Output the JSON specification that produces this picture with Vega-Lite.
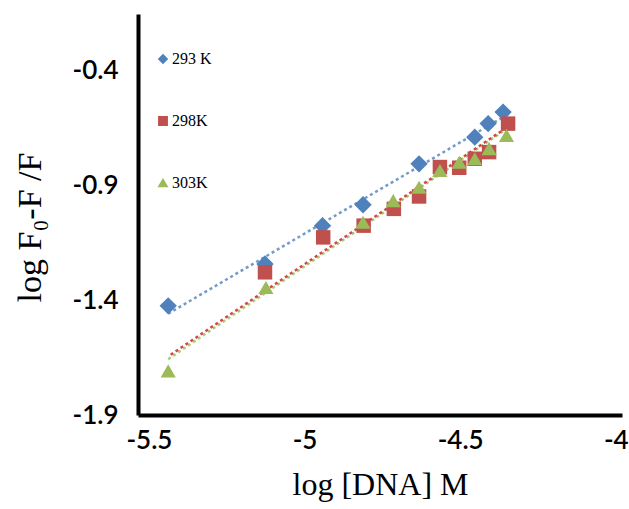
{
  "$schema": "https://vega.github.io/schema/vega-lite/v6.json",
  "width": 484,
  "height": 401,
  "autosize": {"type": "none"},
  "padding": {"left": 138, "top": 14, "right": 7, "bottom": 94},
  "background": "white",
  "config": {
    "view": {"stroke": null},
    "axis": {
      "grid": false,
      "ticks": false,
      "domainColor": "black",
      "domainWidth": 4,
      "labelFont": "Lato",
      "labelFontSize": 26,
      "labelFontWeight": 600,
      "labelColor": "black",
      "titleFont": "Liberation Serif",
      "titleFontSize": 32,
      "titleFontWeight": "normal",
      "titleColor": "black"
    }
  },
  "datasets": {
    "points": [
      {"series": "293 K", "x": -5.438, "y": -1.425},
      {"series": "293 K", "x": -5.127, "y": -1.243},
      {"series": "293 K", "x": -4.942, "y": -1.076},
      {"series": "293 K", "x": -4.812, "y": -0.985},
      {"series": "293 K", "x": -4.632, "y": -0.807},
      {"series": "293 K", "x": -4.453, "y": -0.691},
      {"series": "293 K", "x": -4.41, "y": -0.632},
      {"series": "293 K", "x": -4.362, "y": -0.582},
      {"series": "298K", "x": -5.127, "y": -1.279},
      {"series": "298K", "x": -4.94, "y": -1.127},
      {"series": "298K", "x": -4.81, "y": -1.076},
      {"series": "298K", "x": -4.713, "y": -1.003},
      {"series": "298K", "x": -4.632, "y": -0.949},
      {"series": "298K", "x": -4.565, "y": -0.821},
      {"series": "298K", "x": -4.503, "y": -0.824},
      {"series": "298K", "x": -4.453, "y": -0.785},
      {"series": "298K", "x": -4.407, "y": -0.756},
      {"series": "298K", "x": -4.346, "y": -0.632},
      {"series": "303K", "x": -5.438, "y": -1.708},
      {"series": "303K", "x": -5.124, "y": -1.345},
      {"series": "303K", "x": -4.812, "y": -1.061},
      {"series": "303K", "x": -4.715, "y": -0.967},
      {"series": "303K", "x": -4.632, "y": -0.909},
      {"series": "303K", "x": -4.565, "y": -0.836},
      {"series": "303K", "x": -4.503, "y": -0.8},
      {"series": "303K", "x": -4.453, "y": -0.785},
      {"series": "303K", "x": -4.407, "y": -0.741},
      {"series": "303K", "x": -4.351, "y": -0.683}
    ],
    "trends": [
      {"series": "293 K", "x": -5.438, "y": -1.459},
      {"series": "293 K", "x": -4.362, "y": -0.604},
      {"series": "298K", "x": -5.438, "y": -1.645},
      {"series": "298K", "x": -4.346, "y": -0.645},
      {"series": "303K", "x": -5.438, "y": -1.657},
      {"series": "303K", "x": -4.351, "y": -0.655}
    ]
  },
  "encoding": {
    "x": {"field": "x", "type": "quantitative",
      "scale": {"domain": [-5.535, -3.98], "nice": false, "zero": false},
      "axis": {"values": [-5.5, -5, -4.5, -4], "labelExpr": "'' + datum.value", "labelPadding": 12, "title": "log [DNA] M", "titlePadding": 16}},
    "y": {"field": "y", "type": "quantitative",
      "scale": {"domain": [-1.9, -0.155], "nice": false, "zero": false},
      "axis": {"values": [-1.9, -1.4, -0.9, -0.4], "labelExpr": "'' + datum.value", "labelPadding": 20, "title": "log F₀-F /F", "titleFontSize": 34, "titleX": -108, "titleY": 213, "titleBaseline": "middle", "titleAlign": "center", "titleAngle": -90}}
  },
  "layer": [
    {
      "data": {"name": "trends"},
      "transform": [{"filter": "datum.series != '298K'"}],
      "mark": {"type": "line", "strokeWidth": 2.5, "strokeDash": [3, 3], "strokeOpacity": 0.8},
      "encoding": {
        "color": {"field": "series", "type": "nominal"},
        "detail": {"field": "series"}
      }
    },
    {
      "data": {"name": "trends"},
      "transform": [{"filter": "datum.series == '298K'"}],
      "mark": {"type": "line", "strokeWidth": 2.5, "strokeDash": [3, 3], "strokeDashOffset": 3, "color": "#D04A45"},
      "encoding": {}
    },
    {
      "data": {"name": "points"},
      "transform": [{"filter": "datum.series == '293 K'"}],
      "mark": {"type": "point", "filled": true, "opacity": 1, "size": 300},
      "encoding": {
        "color": {"field": "series", "type": "nominal"},
        "shape": {"field": "series", "type": "nominal"}
      }
    },
    {
      "data": {"name": "points"},
      "transform": [{"filter": "datum.series == '298K'"}],
      "mark": {"type": "point", "filled": true, "opacity": 1, "size": 210},
      "encoding": {
        "color": {"field": "series", "type": "nominal"},
        "shape": {"field": "series", "type": "nominal"}
      }
    },
    {
      "data": {"name": "points"},
      "transform": [{"filter": "datum.series == '303K'"}],
      "mark": {"type": "point", "filled": true, "opacity": 1, "size": 230},
      "encoding": {
        "color": {"field": "series", "type": "nominal",
          "scale": {"domain": ["293 K", "298K", "303K"], "range": ["#4F81BD", "#C0504D", "#9BBB59"]},
          "legend": {"orient": "none", "legendX": 17, "legendY": 37, "direction": "vertical", "title": null, "rowPadding": 46, "padding": 0, "labelFont": "Liberation Serif", "labelFontSize": 16, "labelColor": "black", "symbolSize": 70, "symbolOpacity": 1, "labelOffset": 1}},
        "shape": {"field": "series", "type": "nominal",
          "scale": {"domain": ["293 K", "298K", "303K"], "range": ["diamond", "square", "triangle-up"]}}
      }
    }
  ]
}
